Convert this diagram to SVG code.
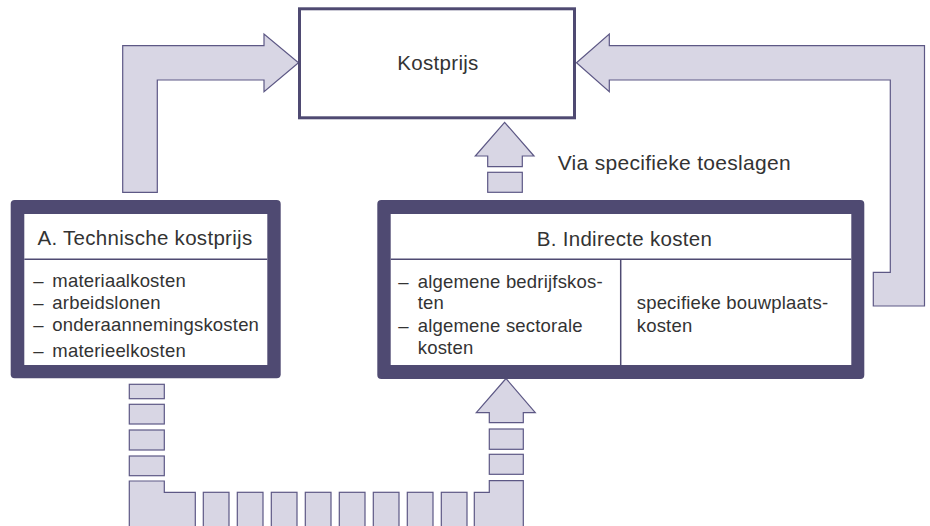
<svg xmlns="http://www.w3.org/2000/svg" width="930" height="526" viewBox="0 0 930 526">
<style>
.blk{fill:#d8d6e4;stroke:#5d5885;stroke-width:1.2}
.frame{fill:#4f4a72}
.inner{fill:#ffffff}
.div{stroke:#4f4a72;stroke-width:1.5;fill:none}
.t{font-family:"Liberation Sans",Arial,Helvetica,sans-serif;fill:#333333}
.title{font-size:20.5px;letter-spacing:0.3px}
.item{font-size:18.5px;letter-spacing:0.2px}
</style>
<rect width="930" height="526" fill="#ffffff"/>
<g id="connectors">
  <polygon class="blk" points="122.7,192.3 122.7,45.7 264,45.7 264,34 298.5,62.8 264,91.7 264,80 157.3,80 157.3,192.3"/>
  <polygon class="blk" points="576.5,62.8 609.3,34 609.3,45.7 924.5,45.7 924.5,306 873.3,306 873.3,272.3 890.3,272.3 890.3,80 609.3,80 609.3,91.7"/>
  <polygon class="blk" points="504.6,122.3 534,156 522.3,156 522.3,166.7 487.7,166.7 487.7,156 475.3,156"/>
  <rect class="blk" x="487.7" y="172.3" width="34.6" height="20"/>
  <polygon class="blk" points="506,378.5 535.3,412.7 523.3,412.7 523.3,422.7 489.3,422.7 489.3,412.7 476.3,412.7"/>
  <rect class="blk" x="489.3" y="429" width="34" height="20.3"/>
  <rect class="blk" x="489.3" y="454.3" width="34" height="20"/>
  <polygon class="blk" points="474.3,530 474.3,492.3 489.3,492.3 489.3,480.7 523.3,480.7 523.3,530"/>
  <rect class="blk" x="129.3" y="384.3" width="35" height="14.4"/>
  <rect class="blk" x="129.3" y="404.3" width="35" height="19.7"/>
  <rect class="blk" x="129.3" y="430" width="35" height="20"/>
  <rect class="blk" x="129.3" y="456" width="35" height="19.7"/>
  <polygon class="blk" points="129.3,530 129.3,481 164.3,481 164.3,492.3 195.3,492.3 195.3,530"/>
  <rect class="blk" x="203.3" y="492.3" width="25.7" height="40"/>
  <rect class="blk" x="237.3" y="492.3" width="25.7" height="40"/>
  <rect class="blk" x="271.3" y="492.3" width="25.7" height="40"/>
  <rect class="blk" x="305.3" y="492.3" width="25.7" height="40"/>
  <rect class="blk" x="339.3" y="492.3" width="25.7" height="40"/>
  <rect class="blk" x="373.3" y="492.3" width="25.7" height="40"/>
  <rect class="blk" x="407.3" y="492.3" width="25.7" height="40"/>
  <rect class="blk" x="441.3" y="492.3" width="25.7" height="40"/>
  <text class="t" x="557.7" y="170" font-size="21" letter-spacing="0.3">Via specifieke toeslagen</text>
</g>
<g id="kostprijs">
  <rect x="299.5" y="8.8" width="275" height="109" fill="#ffffff" stroke="#4f4a72" stroke-width="3"/>
  <text class="t title" x="438" y="70" text-anchor="middle">Kostprijs</text>
</g>
<g id="technische-kostprijs">
  <rect class="frame" x="10.7" y="200" width="270" height="178.3" rx="4"/>
  <rect class="inner" x="24.3" y="214" width="243" height="151"/>
  <line class="div" x1="24.3" y1="259.3" x2="267.3" y2="259.3"/>
  <text class="t title" x="145" y="245" text-anchor="middle">A. Technische kostprijs</text>
  <text class="t item" y="286.7"><tspan x="33.3">–</tspan><tspan x="52.3">materiaalkosten</tspan></text>
  <text class="t item" y="309"><tspan x="33.3">–</tspan><tspan x="52.3">arbeidslonen</tspan></text>
  <text class="t item" y="331"><tspan x="33.3">–</tspan><tspan x="52.3">onderaannemingskosten</tspan></text>
  <text class="t item" y="356.7"><tspan x="33.3">–</tspan><tspan x="52.3">materieelkosten</tspan></text>
</g>
<g id="indirecte-kosten">
  <rect class="frame" x="377.3" y="200" width="487" height="179" rx="4"/>
  <rect class="inner" x="390.7" y="214" width="460.6" height="151"/>
  <line class="div" x1="390.7" y1="259.3" x2="851.3" y2="259.3"/>
  <line class="div" x1="620.7" y1="259.3" x2="620.7" y2="365"/>
  <text class="t title" x="624.5" y="246" text-anchor="middle">B. Indirecte kosten</text>
  <text class="t item" y="287.7"><tspan x="398.3">–</tspan><tspan x="417.7">algemene bedrijfskos-</tspan></text>
  <text class="t item" x="417.7" y="309">ten</text>
  <text class="t item" y="331.7"><tspan x="398.3">–</tspan><tspan x="417.7">algemene sectorale</tspan></text>
  <text class="t item" x="417.7" y="354">kosten</text>
  <text class="t item" x="636.7" y="309.3">specifieke bouwplaats-</text>
  <text class="t item" x="636.7" y="331.7">kosten</text>
</g>
</svg>
